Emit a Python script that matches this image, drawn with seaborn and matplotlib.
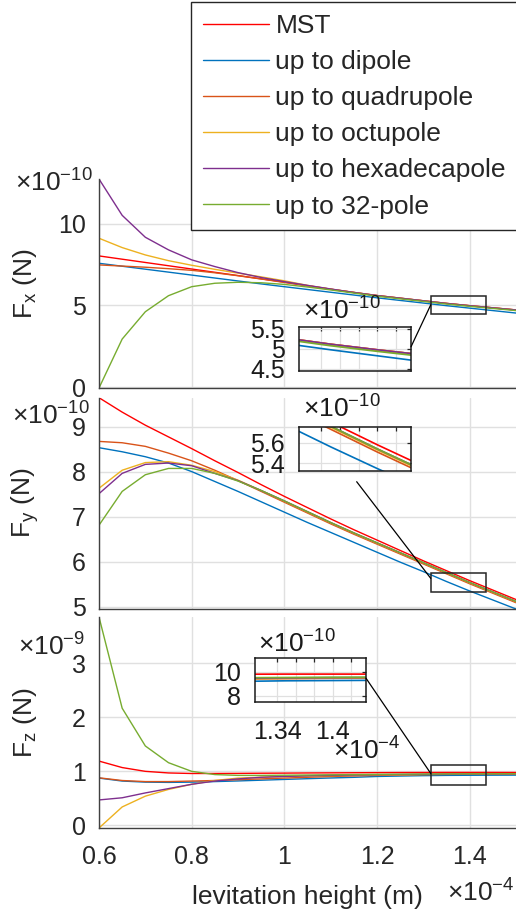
import numpy as np
import pandas as pd
import matplotlib
matplotlib.use('Agg')
import matplotlib.pyplot as plt
from matplotlib.patches import Rectangle, ConnectionPatch
import seaborn as sns

sns.set_style('white')
plt.rcParams['font.family'] = ['Liberation Sans', 'DejaVu Sans']
plt.rcParams['mathtext.fontset'] = 'custom'
plt.rcParams['mathtext.rm'] = 'Liberation Sans'
plt.rcParams['mathtext.it'] = 'Liberation Sans:italic'
plt.rcParams['mathtext.bf'] = 'Liberation Sans:bold'

#Data (height in 1e-4 m, Fx/Fy in 1e-10 N, Fz in 1e-9 N)
height = [0.60, 0.65, 0.70, 0.75, 0.80, 0.85, 0.90, 0.95, 1.00, 1.05,
          1.10, 1.15, 1.20, 1.25, 1.30, 1.35, 1.40, 1.45, 1.50]
series = ['MST', 'up to dipole', 'up to quadrupole', 'up to octupole',
          'up to hexadecapole', 'up to 32-pole']
colors = ['#FF0000', '#0072BD', '#D95319', '#EDB120', '#7E2F8E', '#77AC30']

fx_mst = [8.02, 7.82, 7.62, 7.42, 7.22, 7.02, 6.82, 6.62, 6.42, 6.20, 5.99, 5.79, 5.60, 5.44, 5.28, 5.12, 4.98, 4.85, 4.72]
fx_dip = [7.57, 7.39, 7.21, 7.03, 6.85, 6.67, 6.49, 6.31, 6.14, 5.97, 5.80, 5.63, 5.46, 5.30, 5.14, 4.98, 4.83, 4.68, 4.53]
fx_quad = [7.47, 7.40, 7.33, 7.24, 7.14, 6.99, 6.81, 6.61, 6.40, 6.19, 5.98, 5.78, 5.59, 5.43, 5.27, 5.11, 4.97, 4.84, 4.71]
fx_oct = [9.10, 8.53, 8.08, 7.73, 7.45, 7.20, 6.97, 6.74, 6.50, 6.22, 5.99, 5.79, 5.60, 5.44, 5.28, 5.12, 4.98, 4.85, 4.72]
fx_hex = [12.72, 10.50, 9.16, 8.39, 7.78, 7.37, 7.00, 6.70, 6.45, 6.22, 6.00, 5.79, 5.60, 5.44, 5.28, 5.12, 4.98, 4.85, 4.72]
fx_32 = [-0.05, 2.94, 4.61, 5.59, 6.14, 6.35, 6.41, 6.38, 6.28, 6.12, 5.94, 5.75, 5.56, 5.40, 5.24, 5.08, 4.94, 4.81, 4.68]

fy_mst = [9.64, 9.32, 9.03, 8.77, 8.51, 8.24, 7.98, 7.71, 7.45, 7.20, 6.95, 6.71, 6.48, 6.25, 6.02, 5.80, 5.58, 5.37, 5.16]
fy_dip = [8.53, 8.44, 8.33, 8.19, 8.00, 7.78, 7.56, 7.33, 7.10, 6.87, 6.65, 6.43, 6.21, 5.99, 5.78, 5.56, 5.35, 5.15, 4.95]
fy_quad = [8.67, 8.64, 8.56, 8.41, 8.24, 8.03, 7.80, 7.56, 7.32, 7.08, 6.84, 6.61, 6.39, 6.17, 5.95, 5.73, 5.51, 5.30, 5.09]
fy_oct = [7.63, 8.03, 8.20, 8.22, 8.14, 8.00, 7.81, 7.58, 7.34, 7.10, 6.86, 6.63, 6.41, 6.19, 5.97, 5.75, 5.53, 5.32, 5.11]
fy_hex = [7.51, 7.96, 8.16, 8.19, 8.13, 7.96, 7.80, 7.58, 7.35, 7.11, 6.87, 6.64, 6.42, 6.20, 5.98, 5.76, 5.54, 5.33, 5.12]
fy_32 = [6.81, 7.56, 7.93, 8.07, 8.07, 7.96, 7.79, 7.58, 7.35, 7.11, 6.87, 6.64, 6.42, 6.20, 5.98, 5.76, 5.54, 5.33, 5.12]

fz_mst = [1.19, 1.07, 1.00, 0.97, 0.96, 0.96, 0.962, 0.965, 0.967, 0.97, 0.972, 0.974, 0.976, 0.978, 0.979, 0.98, 0.98, 0.98, 0.979]
fz_dip = [0.875, 0.82, 0.80, 0.795, 0.80, 0.81, 0.822, 0.836, 0.85, 0.864, 0.877, 0.889, 0.905, 0.913, 0.92, 0.925, 0.927, 0.929, 0.93]
fz_quad = [0.88, 0.83, 0.81, 0.81, 0.82, 0.83, 0.845, 0.86, 0.875, 0.89, 0.905, 0.915, 0.925, 0.933, 0.939, 0.943, 0.946, 0.948, 0.95]
fz_oct = [-0.05, 0.34, 0.54, 0.665, 0.76, 0.83, 0.875, 0.89, 0.905, 0.915, 0.922, 0.929, 0.934, 0.938, 0.942, 0.945, 0.947, 0.949, 0.951]
fz_hex = [0.47, 0.51, 0.60, 0.68, 0.76, 0.82, 0.86, 0.89, 0.905, 0.917, 0.926, 0.933, 0.938, 0.942, 0.946, 0.949, 0.951, 0.952, 0.953]
fz_32 = [3.86, 2.17, 1.47, 1.16, 1.00, 0.94, 0.925, 0.925, 0.928, 0.932, 0.936, 0.94, 0.944, 0.947, 0.95, 0.952, 0.954, 0.955, 0.956]

xticks = [0.6, 0.8, 1.0, 1.2, 1.4]
xtick_labels = ['0.6', '0.8', '1', '1.2', '1.4']

#Zoom window of the insets
zoom_x = [1.316, 1.436]
zoom_fx = [4.45, 5.55]
zoom_fy = [5.33, 5.755]
zoom_fz = [0.748, 1.115]

#Long form table
fx = dict(zip(series, [fx_mst, fx_dip, fx_quad, fx_oct, fx_hex, fx_32]))
fy = dict(zip(series, [fy_mst, fy_dip, fy_quad, fy_oct, fy_hex, fy_32]))
fz = dict(zip(series, [fz_mst, fz_dip, fz_quad, fz_oct, fz_hex, fz_32]))
rows = []
for name in series:
    for i, h in enumerate(height):
        rows.append({'h': h, 'series': name, 'Fx': fx[name][i], 'Fy': fy[name][i], 'Fz': fz[name][i]})
df = pd.DataFrame(rows)
df['Fz10'] = df['Fz'] * 10
palette = dict(zip(series, colors))

W, H = 516, 917
fig = plt.figure(figsize=(W / 100, H / 100), dpi=100)


def px_axes(l, t, r, b):
    return fig.add_axes([l / W, 1 - b / H, (r - l) / W, (b - t) / H])


def draw(ax, col, lw=1.0):
    sns.lineplot(data=df, x='h', y=col, hue='series', hue_order=series,
                 palette=palette, ax=ax, legend=False, linewidth=lw, sort=False)
    ax.set_xlabel('')
    ax.set_ylabel('')


def style_main(ax, col, yticks, bottom_labels):
    for s in ['top', 'right']:
        ax.spines[s].set_visible(False)
    for s in ['left', 'bottom']:
        ax.spines[s].set_color('#404040')
        ax.spines[s].set_linewidth(1.0)
    ax.grid(True, color='#e0e0e0', linewidth=1.0)
    ax.set_axisbelow(True)
    ax.tick_params(direction='in', length=4, width=1.0, color='#404040',
                   labelsize=18, labelcolor='#262626')
    ax.tick_params(axis='x', pad=12, labelbottom=bottom_labels)
    ax.tick_params(axis='y', pad=9.5)
    ax.set_xlim(0.6, 1.5)
    ax.set_xticks(xticks)
    ax.set_xticklabels(xtick_labels)
    ax.set_yticks(yticks)
    ax.set_yticklabels([f'{t:g}' for t in yticks])
    ax.set_ylim(df[col].min(), df[col].max())


def style_inset(ax, ylim, yticks, xlabels=None):
    for s in ax.spines.values():
        s.set_color('#1a1a1a')
        s.set_linewidth(1.1)
    ax.grid(True, color='#e0e0e0', linewidth=0.9)
    ax.set_axisbelow(True)
    ax.tick_params(direction='in', length=3, width=0.9, top=True, right=True,
                   labelsize=18, labelcolor='#1a1a1a')
    ax.tick_params(axis='y', pad=10)
    ax.tick_params(axis='x', pad=13)
    ax.set_xlim(zoom_x)
    ax.set_xticks([1.34, 1.36, 1.38, 1.40, 1.42])
    if xlabels is None:
        ax.tick_params(axis='x', labelbottom=False)
    else:
        ax.set_xticklabels(xlabels)
    ax.set_ylim(ylim)
    ax.set_yticks(yticks)
    ax.set_yticklabels([f'{t:g}' for t in yticks])


ax_x = px_axes(99, 179, 516, 388)
ax_y = px_axes(99, 397.7, 516, 609)
ax_z = px_axes(99, 617, 516, 828)

draw(ax_x, 'Fx')
draw(ax_y, 'Fy')
draw(ax_z, 'Fz')
style_main(ax_x, 'Fx', [0, 5, 10], False)
style_main(ax_y, 'Fy', [5, 6, 7, 8, 9], False)
style_main(ax_z, 'Fz', [0, 1, 2, 3], True)

#Y labels, centred on each panel
ylabels = [(283.5, 'F$_\\mathregular{x}$ (N)'), (503, 'F$_\\mathregular{y}$ (N)'),
           (722.5, 'F$_\\mathregular{z}$ (N)')]
for yc, lab in ylabels:
    fig.text(25 / W, 1 - yc / H, lab, rotation=90, ha='center', va='center',
             fontsize=19, color='#262626')

ax_z.set_xlabel('levitation height (m)', fontsize=19, color='#262626')
ax_z.xaxis.set_label_coords(0.5, -0.268)

#Exponent labels
ax_x.text(-0.2014, 0.938, '×10$^\\mathregular{-10}$', transform=ax_x.transAxes, fontsize=19,
          ha='left', va='baseline', color='#262626')
ax_y.text(-0.2086, 0.874, '×10$^\\mathregular{-10}$', transform=ax_y.transAxes, fontsize=19,
          ha='left', va='baseline', color='#262626')
ax_z.text(-0.194, 0.815, '×10$^\\mathregular{-9}$', transform=ax_z.transAxes, fontsize=19,
          ha='left', va='baseline', color='#262626')
ax_z.text(0.8345, -0.351, '×10$^\\mathregular{-4}$', transform=ax_z.transAxes, fontsize=19,
          ha='left', va='baseline', color='#262626')

#Zoom rectangles
for ax, zy in [(ax_x, zoom_fx), (ax_y, zoom_fy), (ax_z, zoom_fz)]:
    ax.add_patch(Rectangle((zoom_x[0], zy[0]), zoom_x[1] - zoom_x[0], zy[1] - zy[0],
                           fill=False, edgecolor='#262626', linewidth=1.1, zorder=5))

#Insets
ins_x = px_axes(299, 327, 411, 371)
ins_y = px_axes(299, 426.7, 411, 470.7)
ins_z = px_axes(255, 657.7, 366, 702.3)
draw(ins_x, 'Fx', lw=1.2)
draw(ins_y, 'Fy', lw=1.2)
draw(ins_z, 'Fz10', lw=1.2)
style_inset(ins_x, zoom_fx, [4.5, 5, 5.5])
style_inset(ins_y, zoom_fy, [5.4, 5.6])
style_inset(ins_z, [v * 10 for v in zoom_fz], [8, 10], ['1.34', '', '', '1.4', ''])

ins_x.text(0.036, 1.16, '×10$^\\mathregular{-10}$', transform=ins_x.transAxes, fontsize=19,
           ha='left', va='baseline', color='#1a1a1a')
ins_y.text(0.036, 1.2, '×10$^\\mathregular{-10}$', transform=ins_y.transAxes, fontsize=19,
           ha='left', va='baseline', color='#1a1a1a')
ins_z.text(0.027, 1.105, '×10$^\\mathregular{-10}$', transform=ins_z.transAxes, fontsize=19,
           ha='left', va='baseline', color='#1a1a1a')
ins_z.text(0.703, -1.29, '×10$^\\mathregular{-4}$', transform=ins_z.transAxes, fontsize=19,
           ha='left', va='baseline', color='#1a1a1a')

#Connector lines
links = [(ins_x, (1.0, 0.55), ax_x, (zoom_x[0], 5.03)),
         (ins_y, (0.515, -0.25), ax_y, (zoom_x[0], 5.63)),
         (ins_z, (1.0, 0.54), ax_z, (zoom_x[0], 0.961))]
for ins, pa, ax, pb in links:
    con = ConnectionPatch(xyA=pa, coordsA=ins.transAxes, xyB=pb, coordsB=ax.transData,
                          color='black', linewidth=0.9)
    fig.add_artist(con)

#Legend
handles = ax_x.get_lines()[:len(series)]
fig.legend(handles, series, loc='upper left', bbox_to_anchor=(191 / W, 1 - 2 / H),
           frameon=True, fancybox=False, edgecolor='#262626', framealpha=1,
           fontsize=19, handlelength=2.5, handletextpad=0.25, labelspacing=0.46,
           borderpad=0.45, borderaxespad=0)

fig.savefig('out.png', dpi=100)
